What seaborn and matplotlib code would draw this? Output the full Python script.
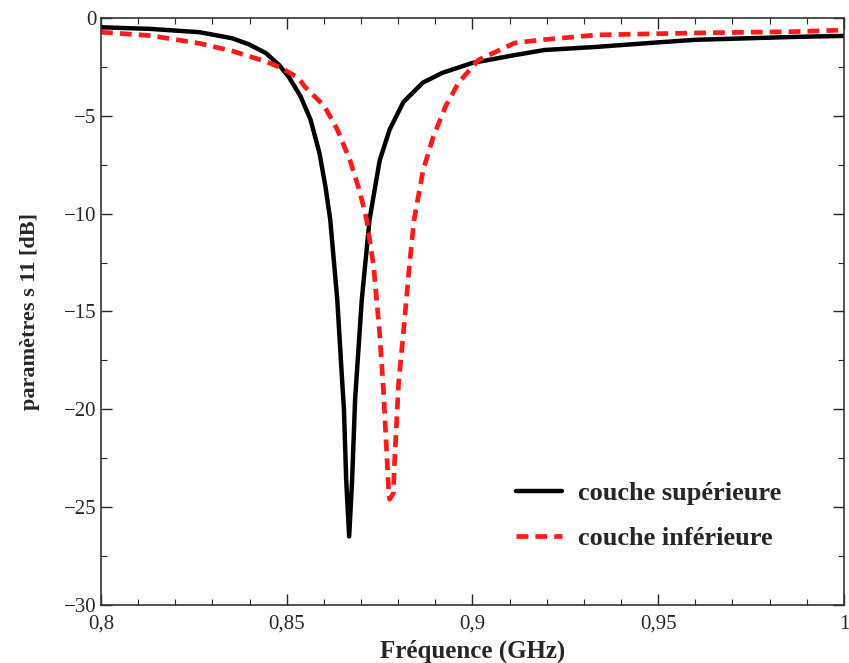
import seaborn as sns
import matplotlib
matplotlib.use("Agg")
import matplotlib.pyplot as plt
from matplotlib.ticker import MultipleLocator, FuncFormatter
import pandas as pd

# couche supérieure (trait noir)
freq_sup = [0.800, 0.8131, 0.8265, 0.8353, 0.8398, 0.8444, 0.8479, 0.8505, 0.8537, 0.8564,
            0.8588, 0.8604, 0.8617, 0.8636, 0.8649, 0.8654, 0.8660, 0.8668, 0.8676,
            0.8684, 0.8702, 0.8723, 0.875, 0.8777, 0.8814, 0.8867, 0.892, 0.900,
            0.9114, 0.9194, 0.9335, 0.950, 0.960, 0.987, 1.000]
s11_sup = [-0.48, -0.56, -0.73, -1.04, -1.35, -1.80, -2.4, -3.0, -4.0, -5.2,
           -6.9, -8.6, -10.3, -14.4, -18.5, -20.0, -23.6, -26.5, -23.6,
           -19.5, -14.4, -10.3, -7.3, -5.7, -4.3, -3.3, -2.8, -2.3,
           -1.9, -1.64, -1.48, -1.25, -1.12, -0.97, -0.92]

# couche inférieure (tirets rouges)
freq_inf = [0.800, 0.8131, 0.8265, 0.8353, 0.8444, 0.8487, 0.8532, 0.8548, 0.8601, 0.8636,
            0.8670, 0.8697, 0.8715, 0.8734, 0.875, 0.876, 0.8774, 0.8777, 0.8787,
            0.879, 0.8801, 0.8814, 0.883, 0.8843, 0.8867, 0.8894, 0.8928, 0.8963,
            0.9016, 0.9114, 0.9186, 0.9335, 0.960, 0.987, 1.000]
s11_inf = [-0.73, -0.90, -1.30, -1.69, -2.23, -2.57, -3.08, -3.5, -4.5, -5.7,
           -7.26, -8.9, -10.3, -12.7, -16.1, -18.9, -24.0, -24.6, -24.3,
           -22.8, -18.7, -16.1, -12.7, -10.3, -7.8, -6.1, -4.5, -3.3,
           -2.15, -1.28, -1.12, -0.87, -0.77, -0.70, -0.62]

xticks = [0.8, 0.85, 0.9, 0.95, 1.0]
xtick_labels = ["0,8", "0,85", "0,9", "0,95", "1"]

sns.set_style("ticks")
plt.rcParams["font.family"] = ["Liberation Serif", "DejaVu Serif"]

fig = plt.figure(figsize=(8.49, 6.63), dpi=100)
ax = fig.add_axes([0.119, 0.0875, 0.875, 0.8855])

df_sup = pd.DataFrame({"f": freq_sup, "s11": s11_sup})
df_inf = pd.DataFrame({"f": freq_inf, "s11": s11_inf})

sns.lineplot(data=df_sup, x="f", y="s11", ax=ax, color="black", lw=3.2,
             label="couche supérieure")
sns.lineplot(data=df_inf, x="f", y="s11", ax=ax, color="#ff1a1a", lw=3.4,
             label="couche inférieure")
ax.lines[1].set_dashes((2.5, 1.5))

ax.set_xlim(0.8, 1.0)
ax.set_ylim(-30, 0)
ax.set_xticks(xticks)
ax.set_xticklabels(xtick_labels)
ax.xaxis.set_minor_locator(MultipleLocator(0.01))
ax.yaxis.set_major_locator(MultipleLocator(5))
ax.yaxis.set_minor_locator(MultipleLocator(2.5))
ax.yaxis.set_major_formatter(FuncFormatter(lambda v, p: f"{int(v)}".replace("-", "\u2212")))

ax.tick_params(which="both", direction="in", top=True, right=True, labelsize=15)
ax.tick_params(axis="x", pad=7)
ax.tick_params(which="major", length=8, width=1)
ax.tick_params(which="minor", length=4, width=0.8)
for sp in ax.spines.values():
    sp.set_linewidth(1.2)
    sp.set_color("#333333")

ax.set_xlabel("Fréquence (GHz)", fontsize=18, fontweight="bold", labelpad=4)
ax.set_ylabel("paramètres s 11 [dB]", fontsize=16, fontweight="bold", labelpad=17)

ax.legend(loc="upper left", bbox_to_anchor=(0.544, 0.228), frameon=False,
          borderaxespad=0, prop={"size": 19, "weight": "bold"}, handlelength=1.75,
          handletextpad=0.6, labelspacing=0.8)

fig.savefig("out.png", dpi=100)
